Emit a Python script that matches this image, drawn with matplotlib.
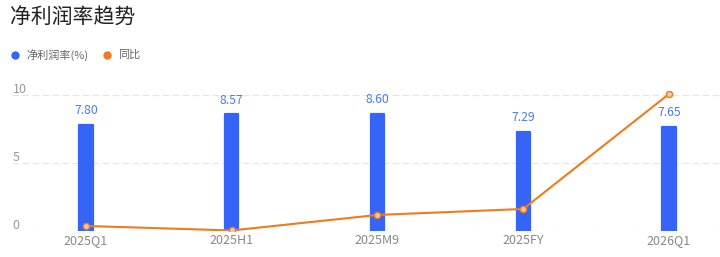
import matplotlib
matplotlib.use("Agg")
import matplotlib.pyplot as plt
from matplotlib.lines import Line2D

plt.rcParams['font.family'] = ['Noto Sans CJK SC', 'DejaVu Sans']

categories = ["2025Q1", "2025H1", "2025M9", "2025FY", "2026Q1"]
net_margin = [7.80, 8.57, 8.60, 7.29, 7.65]
yoy = [0.37, 0.04, 1.18, 1.62, 10.07]
y_ticks = [0, 5, 10]

fig = plt.figure(figsize=(7.2, 2.57), dpi=100)
W, H = 720, 257
ax = fig.add_axes([12 / W, (H - 231) / H, (720 - 12) / W, (231 - 91) / H])

x = list(range(len(categories)))
bar_color = "#3664f6"
line_color = "#f07a1e"

bars = ax.bar(x, net_margin, width=0.092, color=bar_color, edgecolor=bar_color,
              linewidth=1.6, zorder=3)
for b in bars:
    b.set_joinstyle("round")
for xi, v in zip(x, net_margin):
    ax.annotate(f"{v:.2f}", (xi, v), xytext=(0, 5.5), textcoords="offset points",
                ha="center", va="bottom", color="#4b7bef", fontsize=8.8)

ax.plot(x, yoy, color=line_color, lw=1.5, zorder=4,
        marker="o", markersize=4.5, markerfacecolor="#fcc79a",
        markeredgecolor=line_color, markeredgewidth=1.0)

ax.set_xlim(-0.507, 4.35)
ax.set_ylim(0, 10.29)
for t in y_ticks:
    ax.axhline(t, color="#e6e6e6", lw=0.8, ls=(0, (6, 3)), zorder=1)
    ax.text(0.001, t - 0.05, str(t), transform=ax.get_yaxis_transform(),
            ha="left", va="bottom", color="#999999", fontsize=9)

for xi, c in zip(x, categories):
    ax.annotate(c, (xi, 0), xytext=(0, -2.5), textcoords="offset points",
                ha="center", va="top", color="#888888", fontsize=9)
ax.set_xticks([])
ax.set_yticks([])
for s in ax.spines.values():
    s.set_visible(False)

fig.text(10 / W, 1 - 18 / H, "净利润率趋势", ha="left", va="center",
         fontsize=15, color="#222222")

fig.add_artist(Line2D([15 / W], [1 - 55 / H], marker="o", color=bar_color,
                      markersize=5, linestyle="none"))
fig.text(26 / W, 1 - 55 / H, "净利润率(%)", ha="left", va="center",
         fontsize=8, color="#666666")
fig.add_artist(Line2D([107 / W], [1 - 55 / H], marker="o", color=line_color,
                      markersize=5, linestyle="none"))
fig.text(118 / W, 1 - 55 / H, "同比", ha="left", va="center",
         fontsize=8, color="#666666")

fig.savefig("out.png", dpi=100, facecolor="white")
